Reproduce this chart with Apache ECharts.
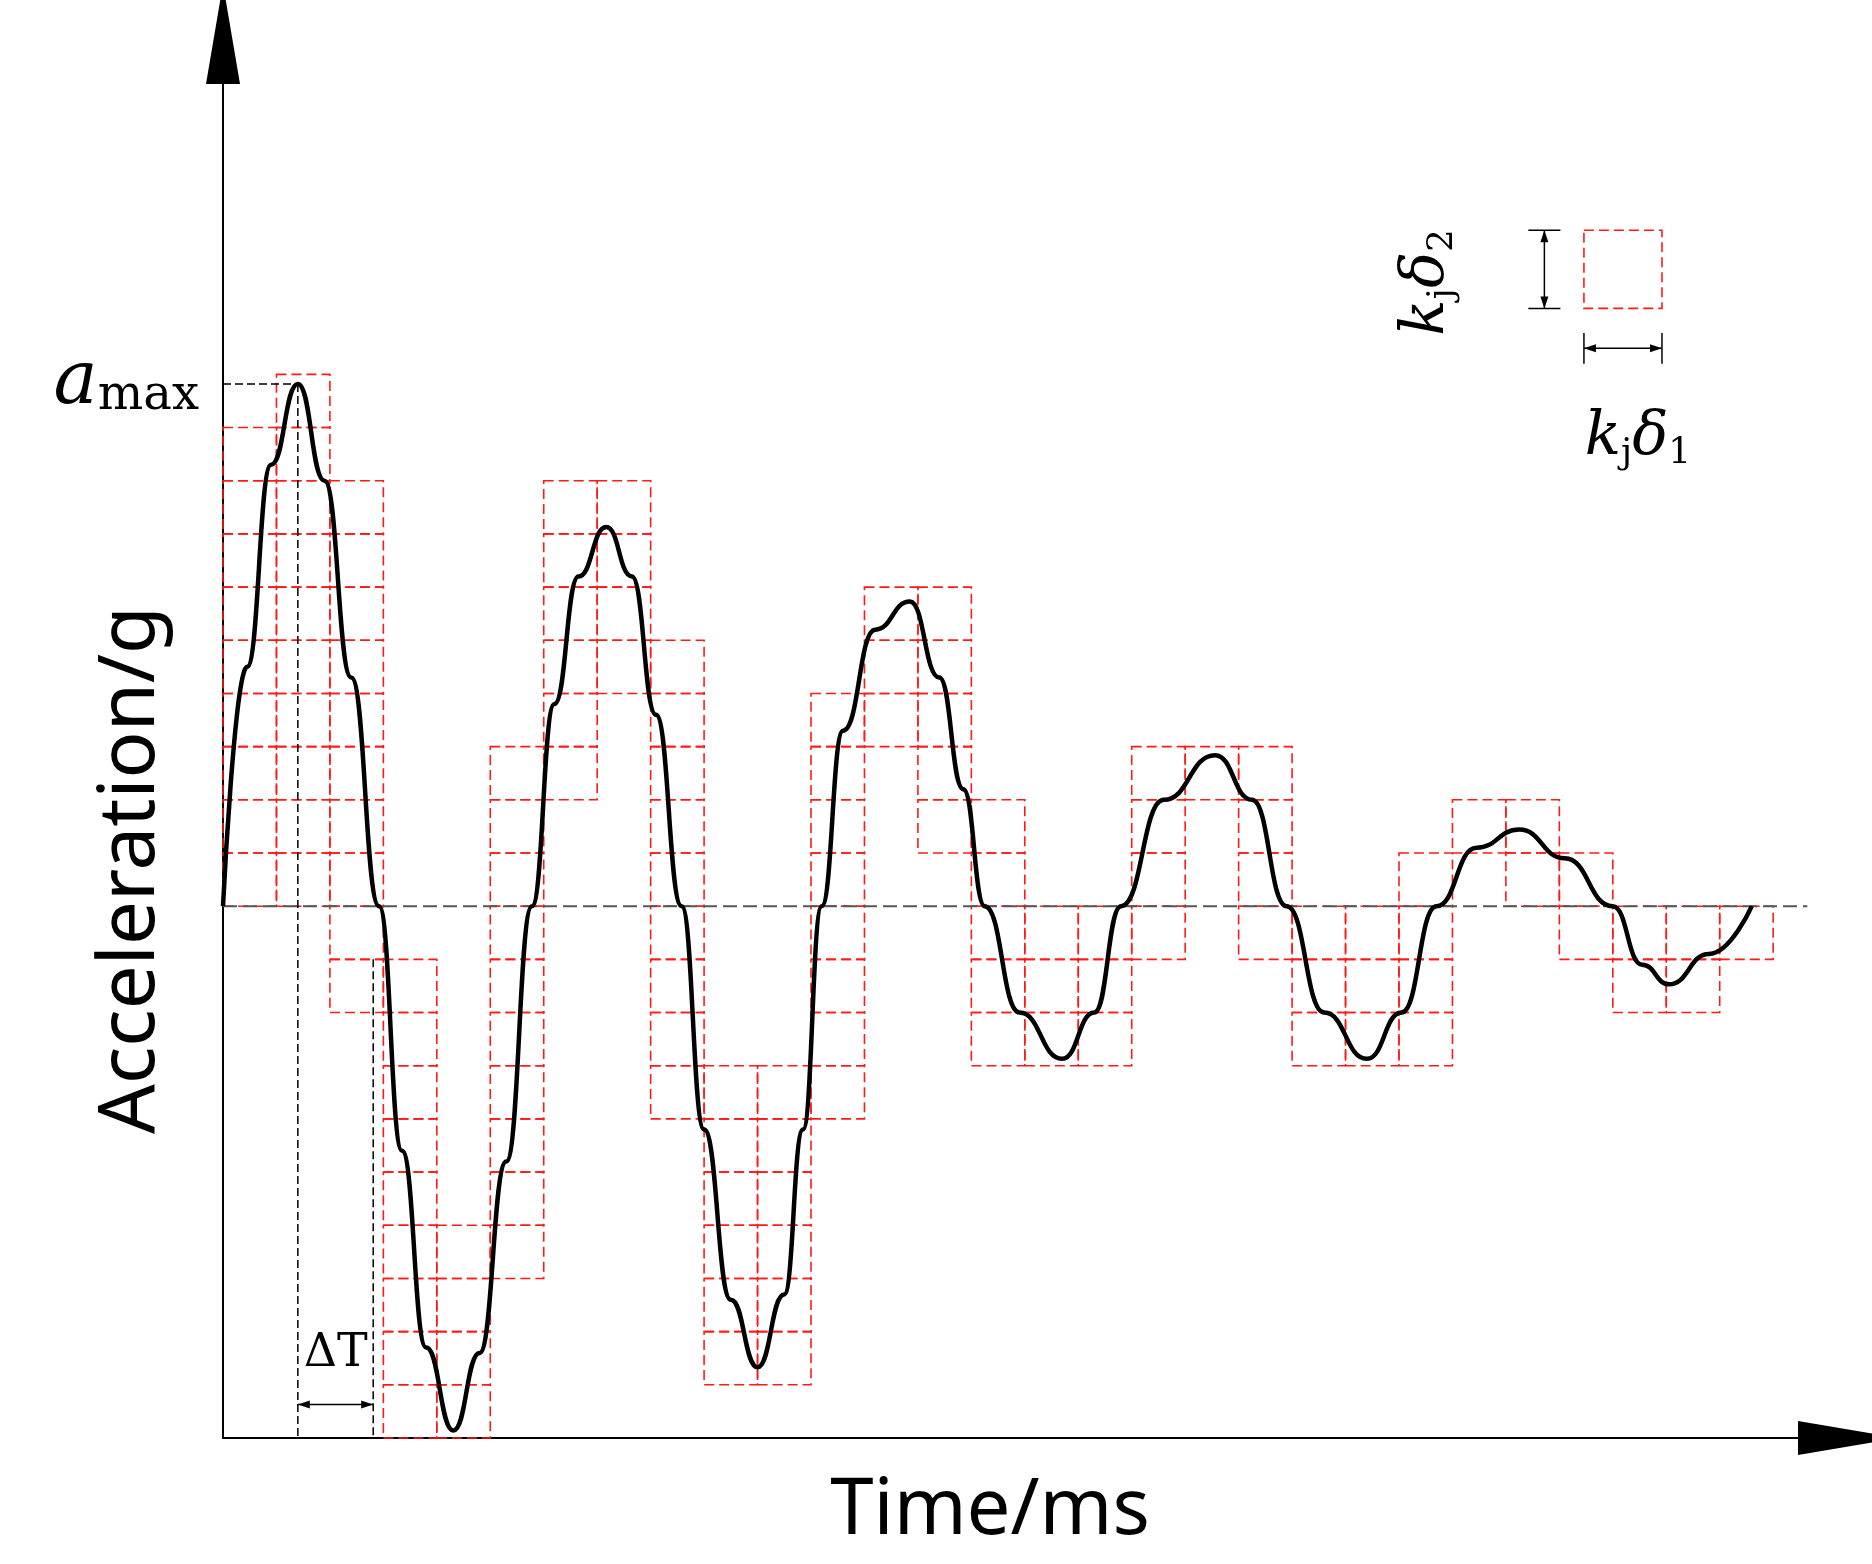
<!DOCTYPE html>
<html><head><meta charset="utf-8">
<script src="https://cdn.jsdelivr.net/npm/echarts@6/dist/echarts.min.js"></script>
<style>html,body{margin:0;padding:0;background:#fff}#c{width:1872px;height:1564px}</style>
</head><body><div id="c"></div>
<script>
// Acceleration curve (x in ΔT units, y in kjδ2 units)
const curveX = [0,0.45,0.9,1.4,1.9,2.4,2.92,3.35,3.8,4.31,4.8,5.3,5.78,6.2,6.65,7.17,7.65,8.1,8.58,9.0,9.5,10.0,10.5,10.85,11.2,11.6,12.2,12.85,13.4,13.85,14.25,14.9,15.7,16.3,16.8,17.6,18.56,19.25,19.9,20.6,21.4,22.05,22.7,23.45,24.25,25.1,26.0,26.55,27.05,27.8,28.6];
const curveY = [0,4.5,8.3,9.82,8.0,4.3,0,-4.6,-8.3,-9.86,-8.4,-4.8,0,3.8,6.2,7.13,6.2,3.6,0,-4.2,-7.4,-8.67,-7.3,-4.2,0,3.3,5.2,5.73,4.3,2.2,0,-2.0,-2.87,-2.0,0,2.0,2.84,2.0,0,-2.0,-2.87,-2.0,0,1.1,1.44,0.9,0,-1.1,-1.47,-0.9,0];
// Grid cell stacks per ΔT column: lower and upper cell index
const colLo = [0,0,-2,-10,-10,-7,2,4,-4,-9,-9,-4,3,1,-3,-3,-3,-1,2,-1,-3,-3,-3,1,0,-1,-2,-2,-1];
const colHi = [9,10,8,-1,-6,3,8,8,5,-3,-3,4,6,6,2,0,0,3,3,3,0,0,1,2,2,1,0,0,0];
const aMax = 9.82, tPeak = 1.4, tNext = 2.81;
const xMax = 30.4, yMin = -10, yMax = 16.4, baseEnd = 29.64;
const legendBox = [25.46, 26.92, 11.24, 12.71];

const cells = [];
colLo.forEach((lo,i)=>{ for(let r=lo;r<colHi[i];r++) cells.push([i,r]); });
const redStyle = {stroke:'#ff1a1a', fill:'none', lineWidth:1.6, lineDash:[10,5]};

const chart = echarts.init(document.getElementById('c'));
function seg(api,a,b,style){
  const p=api.coord(a), q=api.coord(b);
  return {type:'line', shape:{x1:p[0],y1:p[1],x2:q[0],y2:q[1]}, style:style};
}
function arrowHead(api,tip,from){
  const p=api.coord(tip), q=api.coord(from);
  const dx=p[0]-q[0], dy=p[1]-q[1], L=Math.hypot(dx,dy), ux=dx/L, uy=dy/L, len=12, w=4;
  return {type:'polygon', shape:{points:[[p[0],p[1]],[p[0]-ux*len-uy*w,p[1]-uy*len+ux*w],[p[0]-ux*len+uy*w,p[1]-uy*len-ux*w]]}, style:{fill:'#000'}};
}
chart.setOption({
  animation:false,
  grid:{left:223,right:24,top:34,bottom:126},
  xAxis:{type:'value',min:0,max:xMax,axisLine:{onZero:false,lineStyle:{color:'#000',width:2},symbol:['none','triangle'],symbolSize:[34,100]},axisTick:{show:false},axisLabel:{show:false},splitLine:{show:false}},
  yAxis:{type:'value',min:yMin,max:yMax,axisLine:{onZero:false,lineStyle:{color:'#000',width:2},symbol:['none','triangle'],symbolSize:[34,100]},axisTick:{show:false},axisLabel:{show:false},splitLine:{show:false}},
  series:[
    {type:'custom',data:cells,silent:true,renderItem:(p,api)=>{
      const a=api.coord([api.value(0),api.value(1)+1]), b=api.coord([api.value(0)+1,api.value(1)]);
      return {type:'rect',shape:{x:a[0],y:a[1],width:b[0]-a[0],height:b[1]-a[1]},style:redStyle};
    }},
    {type:'custom',data:[[0]],silent:true,renderItem:(p,api)=>{
      const dash={stroke:'#000',lineWidth:1.5,lineDash:[8,4]};
      const solid={stroke:'#000',lineWidth:1.5};
      const ch=[
        seg(api,[0,0],[baseEnd,0],{stroke:'#555',lineWidth:2,lineDash:[14,6]}),
        seg(api,[0,aMax],[tPeak,aMax],dash),
        seg(api,[tPeak,aMax],[tPeak,yMin],dash),
        seg(api,[tNext,-1],[tNext,yMin],dash),
        seg(api,[tPeak,-9.37],[tNext,-9.37],solid),
        arrowHead(api,[tPeak,-9.37],[tNext,-9.37]),
        arrowHead(api,[tNext,-9.37],[tPeak,-9.37]),
        {type:'rect',shape:(()=>{const a=api.coord([legendBox[0],legendBox[3]]),b=api.coord([legendBox[1],legendBox[2]]);return {x:a[0],y:a[1],width:b[0]-a[0],height:b[1]-a[1]};})(),style:redStyle},
        seg(api,[24.72,legendBox[2]],[24.72,legendBox[3]],solid),
        seg(api,[24.42,legendBox[2]],[25.02,legendBox[2]],solid),
        seg(api,[24.42,legendBox[3]],[25.02,legendBox[3]],solid),
        arrowHead(api,[24.72,legendBox[2]],[24.72,legendBox[3]]),
        arrowHead(api,[24.72,legendBox[3]],[24.72,legendBox[2]]),
        seg(api,[legendBox[0],10.49],[legendBox[1],10.49],solid),
        seg(api,[legendBox[0],10.2],[legendBox[0],10.78],solid),
        seg(api,[legendBox[1],10.2],[legendBox[1],10.78],solid),
        arrowHead(api,[legendBox[0],10.49],[legendBox[1],10.49]),
        arrowHead(api,[legendBox[1],10.49],[legendBox[0],10.49])
      ];
      return {type:'group',children:ch};
    }},
    {type:'line',smooth:true,smoothMonotone:'x',symbol:'none',data:curveX.map((x,i)=>[x,curveY[i]]),lineStyle:{color:'#000',width:4.5},z:5}
  ]
});
const serif='"DejaVu Serif","Liberation Serif",serif';
const richK={k:{fontFamily:serif,fontStyle:'italic',fontSize:60},d:{fontFamily:serif,fontStyle:'italic',fontSize:60},s:{fontFamily:serif,fontSize:36,padding:[30,0,0,0]}};
function at(x,y){return chart.convertToPixel({gridIndex:0},[x,y]);}
const pA=at(-0.45,aMax), pT=at(2.11,-8.42), pK2=at(22.54,11.73), pK1=at(26.47,8.8);
chart.setOption({graphic:[
  {type:'text',x:pA[0],y:pA[1],style:{text:'{a|a}{m|max}',rich:{a:{fontFamily:serif,fontStyle:'italic',fontSize:74},m:{fontFamily:serif,fontSize:48,padding:[26,0,0,0]}},align:'right',verticalAlign:'middle',fill:'#000'}},
  {type:'text',x:pT[0],y:pT[1],style:{text:'ΔT',font:'46px '+serif,align:'center',verticalAlign:'middle',fill:'#000'}},
  {type:'text',x:pK2[0],y:pK2[1],rotation:Math.PI/2,style:{text:'{k|k}{s|j}{d|δ}{s|2}',rich:richK,align:'center',verticalAlign:'middle',fill:'#000'}},
  {type:'text',x:pK1[0],y:pK1[1],style:{text:'{k|k}{s|j}{d|δ}{s|1}',rich:richK,align:'center',verticalAlign:'middle',fill:'#000'}},
  {type:'text',x:132,y:870,rotation:Math.PI/2,style:{text:'Acceleration/g',font:'78px "Noto Sans"',align:'center',verticalAlign:'middle',fill:'#000'}},
  {type:'text',x:990,y:1512,style:{text:'Time/ms',font:'78px "Noto Sans"',align:'center',verticalAlign:'middle',fill:'#000'}}
]});
</script></body></html>
